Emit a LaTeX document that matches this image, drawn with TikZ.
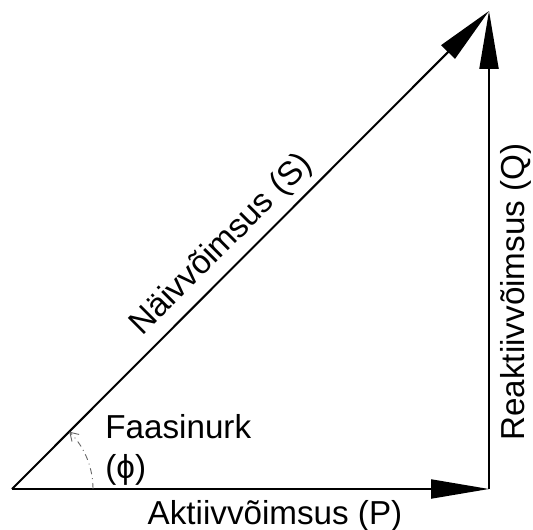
\documentclass[tikz,border=0pt]{standalone}
\usepackage{fontspec}
\setmainfont{Liberation Sans}
\usetikzlibrary{arrows.meta}

\begin{document}
\begin{tikzpicture}[x=0.5pt, y=0.5pt,
    vec/.style={line width=1pt, -{Triangle[length=29pt, width=9.5pt]}},
    lbl/.style={font=\fontsize{16.6}{20}\selectfont, inner sep=0pt}]
    \useasboundingbox (0,0) rectangle (533,529);
    \coordinate (origin) at (12,40);
    \coordinate (pend) at (489,40);
    \coordinate (qend) at (489,518);
    \draw[vec] (origin) -- (pend);
    \draw[vec] (pend) -- (qend);
    \draw[vec] (origin) -- (qend);
    \draw[gray!80!black, line width=0.45pt, dash dot, -{Straight Barb[length=4pt, width=5pt]}] (origin) ++(81,0) arc[start angle=0, end angle=45, radius=81];
    \node[lbl, rotate=45] (slabel) at (222,284) {Näivvõimsus (S)};
    \node[lbl, rotate=90] (qlabel) at (516,237) {Reaktiivvõimsus (Q)};
    \node[lbl] (plabel) at (275,13) {Aktiivvõimsus (P)};
    \node[lbl, anchor=north west, align=left] (angle) at (105,115) {Faasinurk\\(ϕ)};
\end{tikzpicture}
\end{document}
